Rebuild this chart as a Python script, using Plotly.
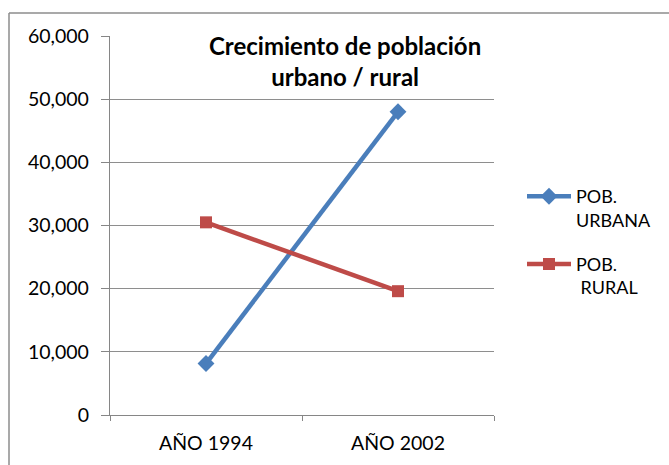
import plotly.graph_objects as go

# Census years and population counts
years = ["AÑO 1994", "AÑO 2002"]
urbana = [8150, 48000]
rural = [30500, 19600]
y_ticks = [0, 10000, 20000, 30000, 40000, 50000, 60000]
y_labels = ["0", "10,000", "20,000", "30,000", "40,000", "50,000", "60,000"]

W, H = 669, 465
ML, MR, MT, MB = 110, 175, 36, 50
pw = W - ML - MR
ph = H - MT - MB

FONT = "Lato"
TICK = dict(family=FONT, size=19.5, color="black")

fig = go.Figure()
fig.add_trace(go.Scatter(
    x=years, y=urbana, name="POB.<br>URBANA", mode="lines+markers", legendgroup="u",
    line=dict(color="#4A7EBB", width=4.5),
    marker=dict(symbol="diamond", size=13, color="#4A7EBB"),
))
fig.add_trace(go.Scatter(
    x=years, y=rural, name="POB.<br> RURAL", mode="lines+markers", legendgroup="r",
    line=dict(color="#BE4B48", width=4.5),
    marker=dict(symbol="square", size=12, color="#BE4B48"),
))

# outer chart frame (left and top edges visible)
fx0 = (9 - ML) / pw
fy1 = 1 + (MT - 13) / ph
fig.add_shape(type="line", xref="paper", yref="paper", x0=fx0, x1=fx0, y0=-1, y1=fy1,
              line=dict(color="#8C8C8C", width=1.5))
fig.add_shape(type="line", xref="paper", yref="paper", x0=fx0, x1=3, y0=fy1, y1=fy1,
              line=dict(color="#8C8C8C", width=1.5))

fig.add_annotation(
    xref="paper", yref="paper", x=(345 - ML) / pw, y=1 - (61 - MT) / ph,
    text="<b>Crecimiento de población<br>urbano / rural</b>", showarrow=False,
    font=dict(family=FONT, size=24, color="black"), align="center",
    xanchor="center", yanchor="middle",
)

fig.update_layout(
    width=W, height=H, margin=dict(l=ML, r=MR, t=MT, b=MB, autoexpand=False),
    paper_bgcolor="white", plot_bgcolor="white",
    font=dict(family=FONT, size=18, color="black"),
    showlegend=True,
    legend=dict(
        x=(522 - ML) / pw, xanchor="left", y=1 - (178 - MT) / ph, yanchor="top",
        font=dict(family=FONT, size=18, color="black"), valign="top",
        tracegroupgap=18, itemwidth=44, bgcolor="rgba(0,0,0,0)",
    ),
    xaxis=dict(
        type="category", range=[-0.5, 1.5], showgrid=False,
        showline=True, linecolor="#868686", linewidth=1.3,
        ticks="outside", tickson="boundaries", ticklen=5, tickcolor="#868686",
        tickfont=TICK, ticklabelstandoff=10,
    ),
    yaxis=dict(
        range=[0, 60000], tickvals=y_ticks, ticktext=y_labels,
        showgrid=True, gridcolor="#8E8E8E", gridwidth=1.2,
        showline=True, linecolor="#868686", linewidth=1.3,
        ticks="outside", ticklen=8, tickcolor="#868686",
        tickfont=TICK, zeroline=False, ticklabelstandoff=8,
    ),
)

fig.write_html("out.html")
